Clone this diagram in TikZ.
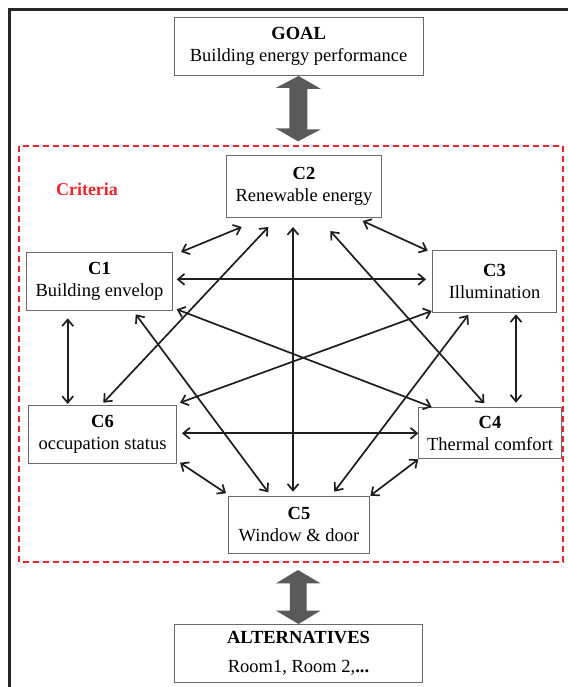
\documentclass[tikz,border=0pt]{standalone}
\usepackage{fontspec}
\setmainfont{Liberation Serif}
\usetikzlibrary{arrows.meta,calc}
\definecolor{boxgray}{HTML}{6A6A6A}
\definecolor{blockgray}{HTML}{5A5A5A}
\definecolor{critred}{HTML}{E8262B}
\definecolor{ink}{HTML}{1E1E1E}
\begin{document}
\begin{tikzpicture}[x=1pt,y=-1pt,
  box/.style={draw=boxgray, line width=1pt, fill=white, align=center, inner sep=0pt,
    anchor=north west, font=\fontsize{18.5}{22}\selectfont},
  link/.style={line width=1.7pt, draw=ink,
    {Straight Barb[length=6.5pt,width=11pt]}-{Straight Barb[length=6.5pt,width=11pt]}},
  block/.style={fill=blockgray}]
\useasboundingbox (0,0) rectangle (567,687);
% outer frame
\draw[line width=2.4pt, black!85] (9.5,700) -- (9.5,9.5) -- (580,9.5);
% criteria frame
\draw[critred, dash pattern=on 6pt off 4pt, line width=1.4pt] (19,146) rectangle (563,562);
\node[font=\fontsize{18}{22}\selectfont\bfseries, text=critred] (crit) at (87,189) {Criteria};

% nodes
\node[box, minimum width=249pt, minimum height=58pt] (goal) at (173.6,17) {\textbf{GOAL}\\Building energy performance};
\node[box, minimum width=146pt, minimum height=58pt] (c1) at (26,252) {\textbf{C1}\\Building envelop};
\node[box, minimum width=155pt, minimum height=62pt] (c2) at (226,155) {\textbf{C2}\\Renewable energy};
\node[box, minimum width=124pt, minimum height=62pt] (c3) at (432,250) {\textbf{C3}\\Illumination};
\node[box, minimum width=143pt, minimum height=51pt] (c4) at (418,407) {\textbf{C4}\\Thermal comfort};
\node[box, minimum width=141pt, minimum height=57pt] (c5) at (228,496) {\textbf{C5}\\Window \& door};
\node[box, minimum width=148pt, minimum height=58pt] (c6) at (28,405) {\textbf{C6}\\occupation status};
\node[box, minimum width=248pt, minimum height=58pt] (alt) at (174,624) {\textbf{ALTERNATIVES}\\[6.5pt]Room1, Room 2,\textbf{...}};

% block arrows
\coordinate (critTop) at (298,141.3);
\coordinate (critBot) at (298,570);
\fill[block] (goal.south) -- ++(22.4,13) -- ++(-13.7,0) -- ++(0,40.3) -- ++(13.7,0) -- (critTop)
  -- ++(-22.4,-13) -- ++(13.7,0) -- ++(0,-40.3) -- ++(-13.7,0) -- cycle;
\fill[block] (critBot) -- ++(22.4,13.3) -- ++(-13.7,0) -- ++(0,27.4) -- ++(13.7,0) -- (alt.north)
  -- ++(-22.4,-13.3) -- ++(13.7,0) -- ++(0,-27.4) -- ++(-13.7,0) -- cycle;

% links
\draw[link] ($(c1.north east)+(8,0)$) -- ($(c2.south west)+(15.7,9)$);
\draw[link] ($(c6.north west)+(75.3,-2.3)$) -- ($(c2.south west)+(42.3,9)$);
\draw[link] ($(c2.south west)+(67,9)$) -- ($(c5.north west)+(65,-4.3)$);
\draw[link] ($(c1.north east)+(3.7,27.3)$) -- ($(c3.north west)+(-6,29.3)$);
\draw[link] ($(c1.south east)+(3.7,-1.7)$) -- ($(c4.north west)+(13.7,0)$);
\draw[link] ($(c1.south west)+(109.7,3.3)$) -- ($(c5.north west)+(40.3,-3.7)$);
\draw[link] ($(c1.south west)+(41.7,7.3)$) -- ($(c6.north west)+(39.7,-1)$);
\draw[link] ($(c2.south east)+(-19.3,3)$) -- ($(c3.north west)+(-4.3,0.7)$);
\draw[link] ($(c2.south east)+(-51.7,13)$) -- ($(c4.north west)+(66.3,-3.7)$);
\draw[link] ($(c3.south west)+(-0.3,-2)$) -- ($(c6.north east)+(3,-2.3)$);
\draw[link] ($(c3.south west)+(36.3,2)$) -- ($(c5.north east)+(-35.7,-4.3)$);
\draw[link] ($(c3.south west)+(84,1.3)$) -- ($(c4.north west)+(98,-4.3)$);
\draw[link] ($(c6.north east)+(5,28.3)$) -- ($(c4.north west)+(0.3,26.3)$);
\draw[link] ($(c6.south east)+(3,-1.3)$) -- ($(c5.north west)+(-2,-2.7)$);
\draw[link] ($(c4.south west)+(0.3,0.3)$) -- ($(c5.north east)+(0.3,-0.3)$);
\end{tikzpicture}
\end{document}
